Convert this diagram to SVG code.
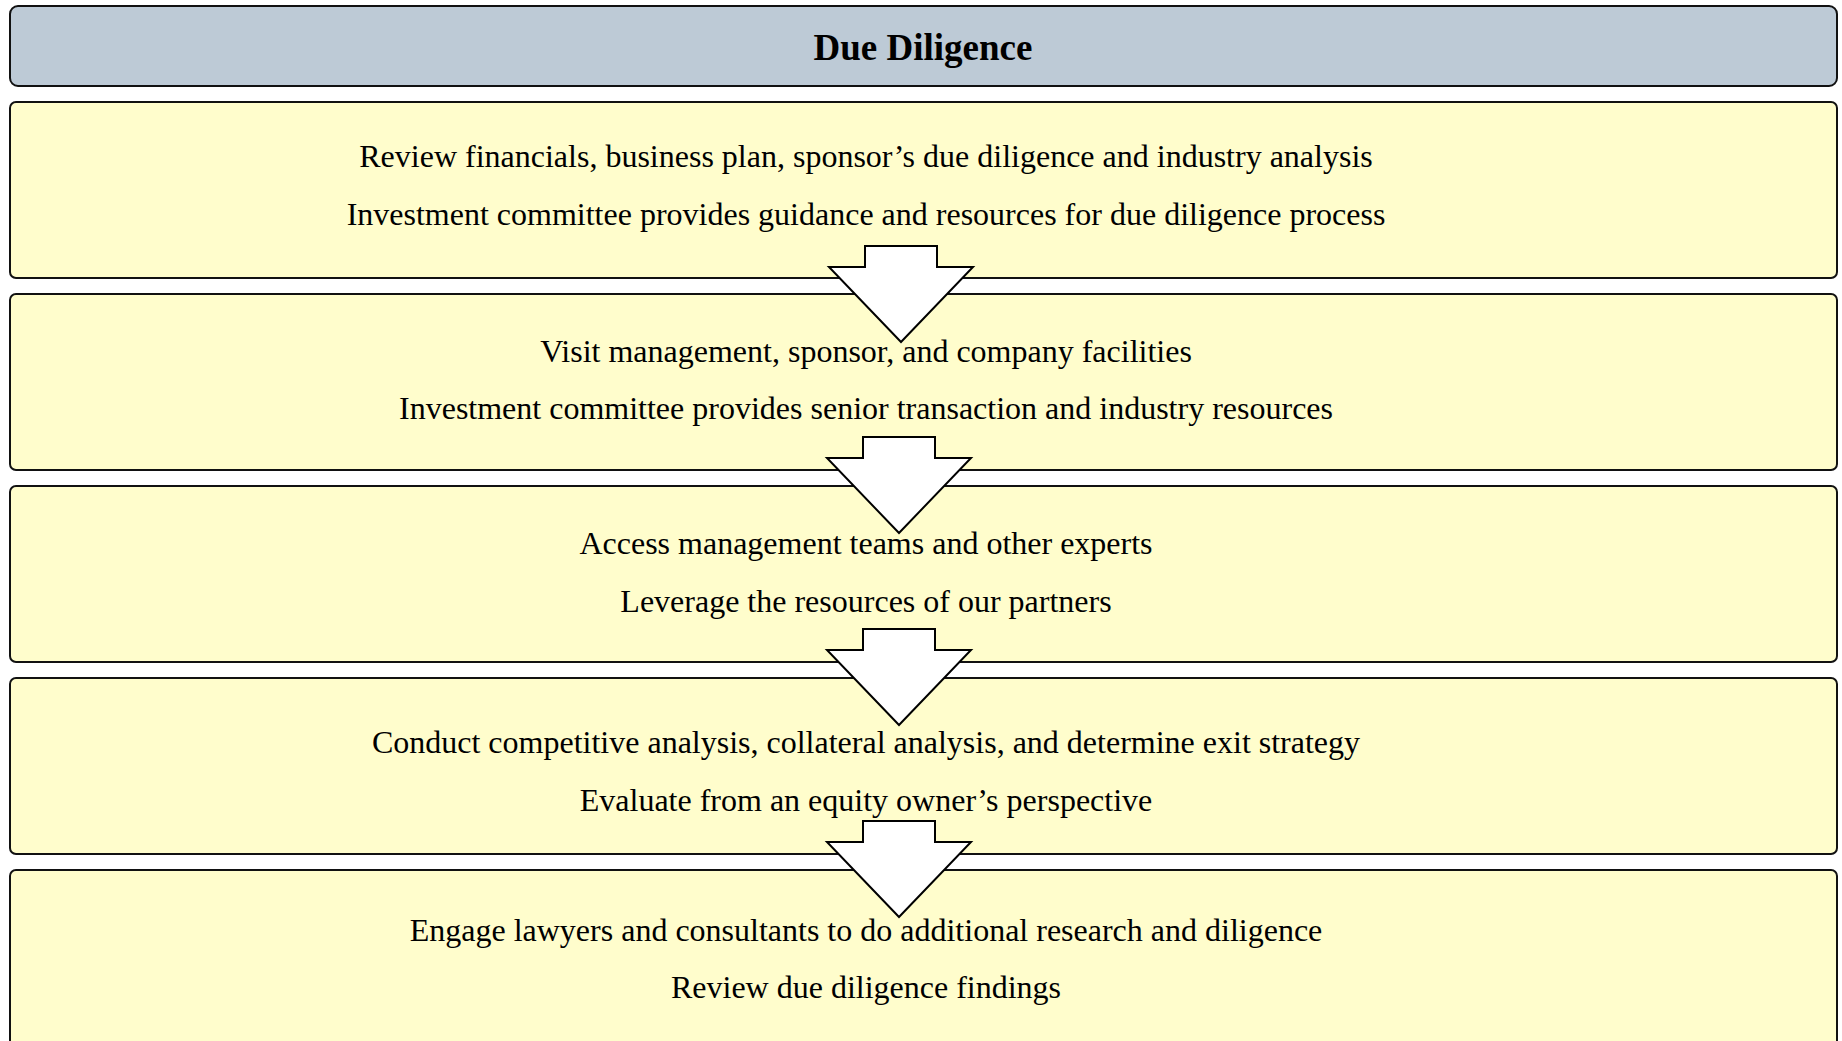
<svg xmlns="http://www.w3.org/2000/svg" width="1842" height="1041" viewBox="0 0 1842 1041">
<style>
.bg{fill:#ffffff}
.hdr{fill:#bdcad6;stroke:#111;stroke-width:2}
.box{fill:#fffdcc;stroke:#111;stroke-width:2}
.arr{fill:#ffffff;stroke:#000;stroke-width:2;stroke-linejoin:miter}
.t{font-family:"Liberation Serif","Times New Roman",serif;font-size:32px;fill:#000;text-anchor:middle}
.h{font-family:"Liberation Serif","Times New Roman",serif;font-size:37px;font-weight:bold;fill:#000;text-anchor:middle}
</style>
<rect class="bg" x="0" y="0" width="1842" height="1041"/>
<g id="header">
<rect class="hdr" x="10" y="6" width="1827" height="80" rx="8"/>
<text class="h" x="923" y="60">Due Diligence</text>
</g>
<g id="step1">
<rect class="box" x="10" y="102" width="1827" height="176" rx="6"/>
<text class="t" x="866" y="167">Review financials, business plan, sponsor’s due diligence and industry analysis</text>
<text class="t" x="866" y="225">Investment committee provides guidance and resources for due diligence process</text>
</g>
<g id="step2">
<rect class="box" x="10" y="294" width="1827" height="176" rx="6"/>
<text class="t" x="866" y="362">Visit management, sponsor, and company facilities</text>
<text class="t" x="866" y="419">Investment committee provides senior transaction and industry resources</text>
</g>
<g id="step3">
<rect class="box" x="10" y="486" width="1827" height="176" rx="6"/>
<text class="t" x="866" y="554">Access management teams and other experts</text>
<text class="t" x="866" y="612">Leverage the resources of our partners</text>
</g>
<g id="step4">
<rect class="box" x="10" y="678" width="1827" height="176" rx="6"/>
<text class="t" x="866" y="753">Conduct competitive analysis, collateral analysis, and determine exit strategy</text>
<text class="t" x="866" y="811">Evaluate from an equity owner’s perspective</text>
</g>
<g id="step5">
<rect class="box" x="10" y="870" width="1827" height="180" rx="6"/>
<text class="t" x="866" y="941">Engage lawyers and consultants to do additional research and diligence</text>
<text class="t" x="866" y="998">Review due diligence findings</text>
</g>
<g id="connectors">
<polygon class="arr" points="865,246 937,246 937,267 973,267 901,342 829,267 865,267"/>
<polygon class="arr" points="863,437 935,437 935,458 971,458 899,533 827,458 863,458"/>
<polygon class="arr" points="863,629 935,629 935,650 971,650 899,725 827,650 863,650"/>
<polygon class="arr" points="863,821 935,821 935,842 971,842 899,917 827,842 863,842"/>
</g>
</svg>
